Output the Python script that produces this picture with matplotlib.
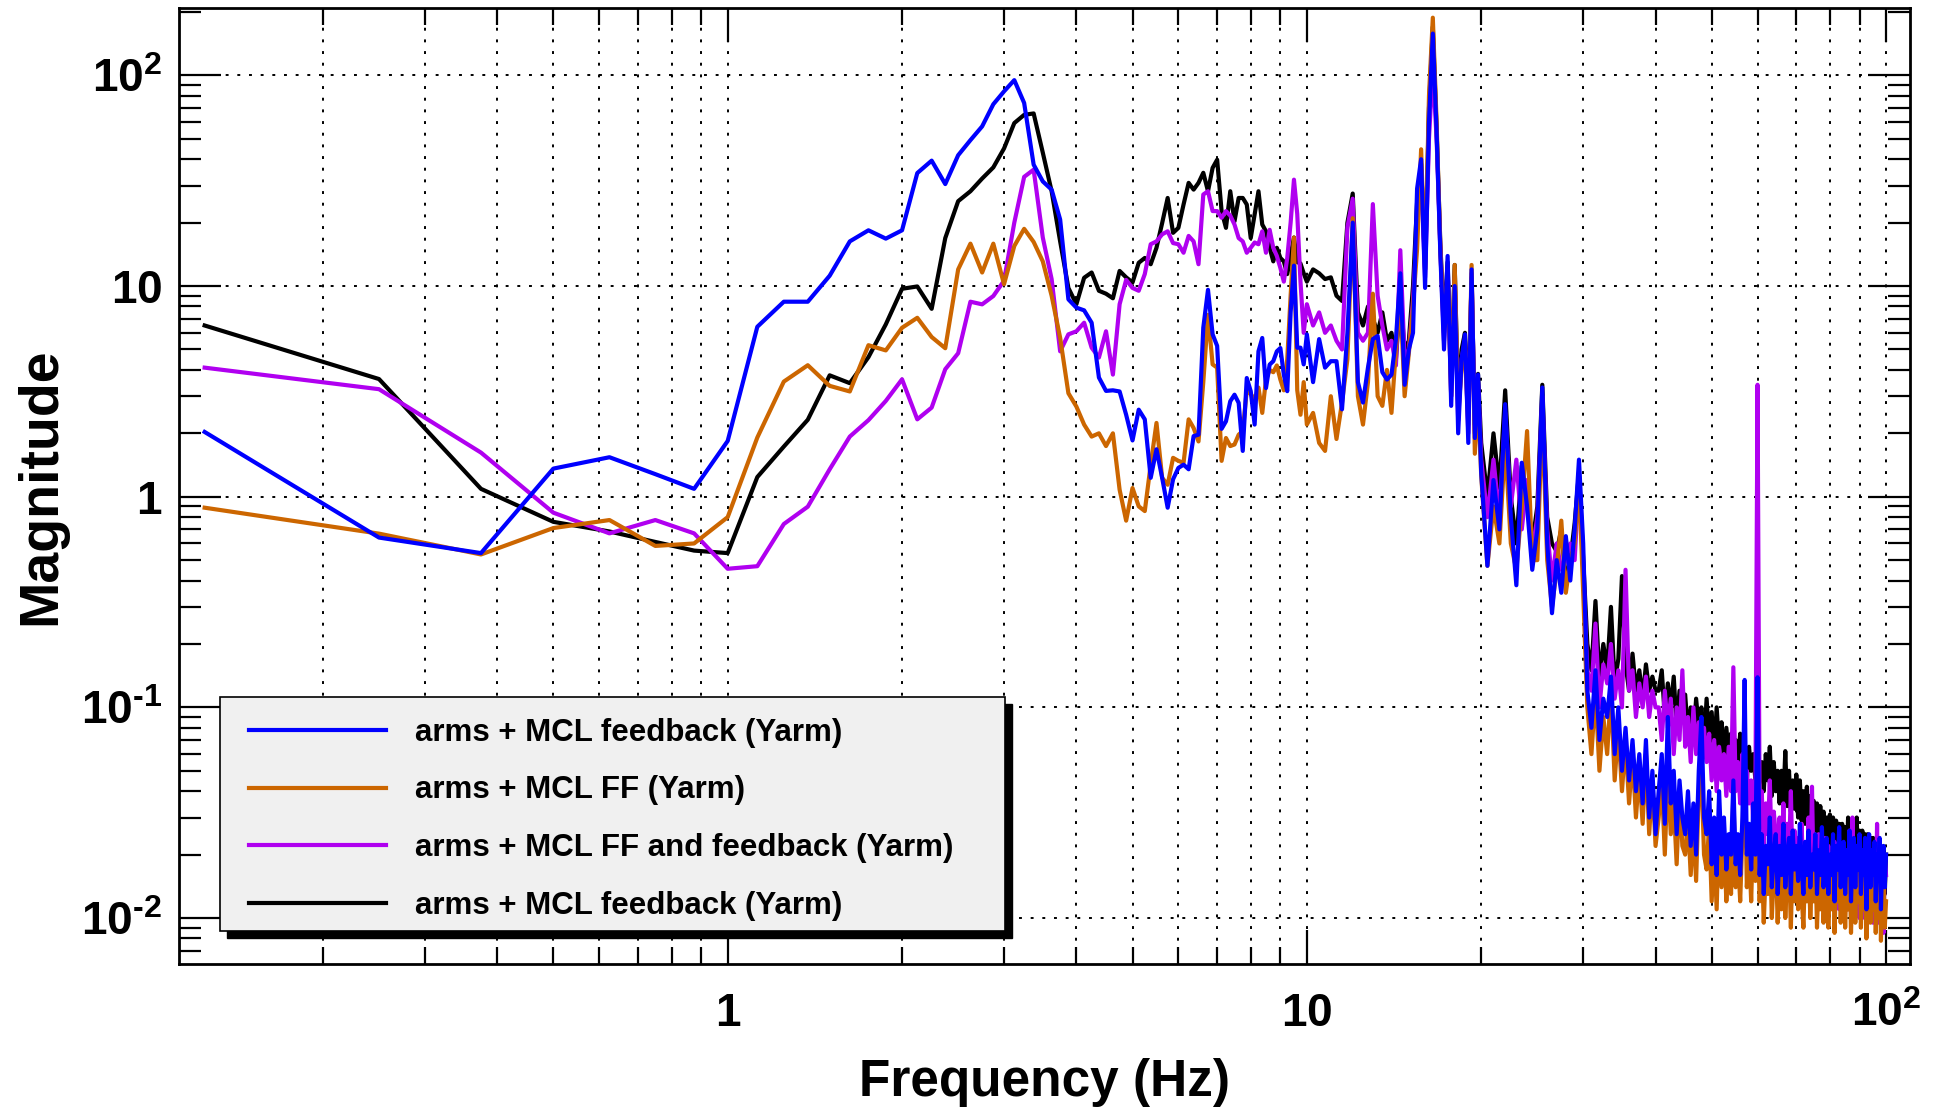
import numpy as np
import matplotlib
matplotlib.use("Agg")
import matplotlib.pyplot as plt
from matplotlib.patches import Rectangle
from matplotlib.ticker import LogLocator, NullFormatter, FixedLocator, FixedFormatter

plt.rcParams['font.family'] = ['Liberation Sans', 'DejaVu Sans']
plt.rcParams['font.weight'] = 'bold'
plt.rcParams['mathtext.fontset'] = 'custom'
plt.rcParams['mathtext.rm'] = 'Liberation Sans:bold'
plt.rcParams['mathtext.bf'] = 'Liberation Sans:bold'
plt.rcParams['mathtext.default'] = 'bf'

# frequency bins (Hz): fine below 10 Hz, coarser reading above
freq_lo = np.arange(1, 81) * 0.125          # 0.125 .. 10
freq_mid = 10 + np.arange(1, 41) * 0.25     # 10.25 .. 20
freq_hi1 = 20 + np.arange(1, 41) * 0.5      # 20.5 .. 40
freq_hi2 = 40 + np.arange(1, 121) * 0.5     # 40.5 .. 100
freq = np.concatenate([freq_lo, freq_mid, freq_hi1, freq_hi2])

# arms + MCL feedback (Yarm) - blue
blue_lo = [2.03, 0.64, 0.54, 1.36, 1.54, 1.28, 1.09, 1.84,
           6.41, 8.43, 8.43, 11.2, 16.3, 18.4, 16.8, 18.4,
           34.4, 39.4, 30.5, 41.8, 49.3, 57.3, 73.0, 84.0,
           95.0, 74.0, 37.7, 31.4, 28.7, 20.7, 8.65, 7.9,
           7.67, 6.7, 3.68, 3.18, 3.2, 3.16, 2.45, 1.85,
           2.59, 2.33, 1.23, 1.68, 1.23, 0.887, 1.21, 1.37,
           1.42, 1.35, 1.94, 1.97, 6.35, 9.6, 5.9, 5.2,
           2.1, 2.28, 2.84, 3.05, 2.79, 1.65, 3.66, 3.17,
           2.2, 4.9, 5.67, 3.28, 4.24, 4.4, 4.9, 5.08,
           3.8, 3.17, 7.5, 12.5, 5.1, 5.1, 4.25, 5.9]
blue_mid = [3.5, 5.6, 4.1, 4.4, 4.4, 2.6, 6.0, 20.0,
            3.5, 2.8, 4.1, 5.6, 5.8, 3.9, 3.6, 3.8,
            5.6, 11.5, 3.4, 5.0, 6.0, 29.0, 40.0, 9.8,
            60.0, 158.0, 54.0, 14.3, 5.0, 13.9, 2.7, 10.0,
            2.0, 4.5, 5.9, 1.8, 12.0, 1.9, 3.8, 1.3]
blue_hi1 = [0.47, 1.2, 0.7, 2.75, 0.8, 0.38, 1.45, 0.9,
            0.45, 0.7, 3.3, 0.6, 0.28, 0.5, 0.35, 0.65,
            0.4, 0.7, 1.5, 0.6, 0.12, 0.08, 0.15, 0.07,
            0.11, 0.09, 0.14, 0.06, 0.1, 0.05, 0.08, 0.045,
            0.07, 0.04, 0.06, 0.035, 0.07, 0.03, 0.05, 0.025]
blue_hi2 = [0.04, 0.06, 0.028, 0.09, 0.035, 0.05, 0.025, 0.045, 0.03, 0.025,
            0.04, 0.022, 0.035, 0.02, 0.05, 0.09, 0.03, 0.025, 0.04, 0.018,
            0.03, 0.016, 0.04, 0.02, 0.03, 0.017, 0.025, 0.02, 0.045, 0.018,
            0.025, 0.016, 0.03, 0.135, 0.02, 0.028, 0.017, 0.035, 0.02, 0.139,
            0.016, 0.025, 0.013, 0.022, 0.018, 0.03, 0.014, 0.02, 0.025, 0.013,
            0.022, 0.016, 0.028, 0.014, 0.02, 0.024, 0.013, 0.026, 0.017, 0.022,
            0.015, 0.028, 0.018, 0.013, 0.023, 0.016, 0.026, 0.014, 0.02, 0.017,
            0.025, 0.013, 0.021, 0.016, 0.027, 0.014, 0.019, 0.024, 0.013, 0.02,
            0.016, 0.025, 0.012, 0.022, 0.017, 0.027, 0.014, 0.02, 0.023, 0.013,
            0.021, 0.016, 0.026, 0.012, 0.02, 0.024, 0.014, 0.022, 0.017, 0.025,
            0.013, 0.021, 0.016, 0.024, 0.011, 0.02, 0.025, 0.014, 0.021, 0.016,
            0.023, 0.012, 0.02, 0.015, 0.024, 0.011, 0.019, 0.022, 0.014, 0.02]

# arms + MCL FF (Yarm) - orange
orange_lo = [0.887, 0.668, 0.532, 0.71, 0.775, 0.584, 0.60, 0.80,
             1.91, 3.52, 4.21, 3.36, 3.16, 5.24, 4.95, 6.34,
             7.07, 5.73, 5.07, 12.0, 15.9, 11.6, 15.9, 10.2,
             15.5, 18.7, 16.2, 13.1, 9.0, 5.68, 3.1, 2.68,
             2.2, 1.93, 2.0, 1.74, 2.0, 1.08, 0.77, 1.1,
             0.9, 0.855, 1.42, 2.24, 1.23, 1.14, 1.53, 1.48,
             1.45, 2.33, 2.12, 1.83, 3.5, 7.3, 4.25, 4.1,
             1.48, 1.9, 1.74, 1.77, 1.97, 2.05, 3.2, 3.07,
             2.9, 3.3, 2.5, 3.6, 4.0, 3.9, 4.2, 3.6,
             3.2, 4.5, 9.0, 17.0, 3.2, 2.45, 3.5, 2.2]
orange_mid = [2.5, 1.8, 1.65, 3.0, 1.88, 2.8, 4.5, 21.0,
              3.0, 2.2, 3.5, 9.2, 3.0, 2.7, 4.0, 2.5,
              5.0, 9.0, 3.0, 4.8, 8.0, 15.0, 44.6, 12.0,
              80.0, 188.0, 60.0, 15.0, 6.0, 12.0, 3.0, 12.6,
              2.5, 4.0, 5.0, 2.2, 12.6, 1.6, 3.0, 1.26]
orange_hi1 = [0.47, 0.9, 0.6, 1.8, 0.6, 0.45, 0.9, 2.05,
              0.5, 0.5, 2.5, 0.5, 0.3, 0.45, 0.77, 0.35,
              0.5, 0.6, 1.2, 0.35, 0.1, 0.06, 0.12, 0.05,
              0.09, 0.06, 0.12, 0.045, 0.08, 0.04, 0.07, 0.035,
              0.06, 0.03, 0.05, 0.028, 0.06, 0.025, 0.045, 0.022]
orange_hi2 = [0.03, 0.045, 0.02, 0.05, 0.025, 0.035, 0.018, 0.04, 0.022, 0.02,
              0.03, 0.016, 0.028, 0.015, 0.04, 0.05, 0.02, 0.017, 0.028, 0.012,
              0.022, 0.011, 0.03, 0.014, 0.025, 0.012, 0.02, 0.013, 0.04, 0.014,
              0.02, 0.012, 0.025, 0.06, 0.014, 0.022, 0.012, 0.028, 0.015, 0.03,
              0.012, 0.02, 0.0095, 0.017, 0.013, 0.024, 0.01, 0.016, 0.02, 0.0095,
              0.017, 0.011, 0.022, 0.01, 0.016, 0.019, 0.009, 0.02, 0.012, 0.018,
              0.011, 0.022, 0.013, 0.009, 0.018, 0.012, 0.02, 0.01, 0.016, 0.012,
              0.02, 0.009, 0.016, 0.011, 0.021, 0.0095, 0.015, 0.019, 0.009, 0.015,
              0.011, 0.02, 0.0085, 0.017, 0.012, 0.021, 0.0095, 0.015, 0.018, 0.009,
              0.016, 0.011, 0.02, 0.0085, 0.015, 0.019, 0.0095, 0.017, 0.012, 0.019,
              0.009, 0.016, 0.011, 0.019, 0.008, 0.015, 0.02, 0.0095, 0.016, 0.011,
              0.018, 0.0085, 0.015, 0.01, 0.019, 0.0078, 0.014, 0.017, 0.009, 0.012]

# arms + MCL FF and feedback (Yarm) - purple
purple_lo = [4.1, 3.24, 1.62, 0.84, 0.67, 0.775, 0.67, 0.455,
             0.468, 0.742, 0.897, 1.35, 1.93, 2.31, 2.85, 3.61,
             2.33, 2.65, 4.03, 4.8, 8.43, 8.19, 8.97, 10.6,
             20.0, 33.0, 35.7, 17.0, 10.8, 4.9, 5.9, 6.1,
             6.7, 5.1, 4.58, 6.1, 3.8, 8.2, 10.7, 9.8,
             9.5, 11.4, 15.8, 16.3, 17.6, 18.2, 16.0, 15.8,
             14.4, 17.3, 16.3, 12.7, 27.2, 28.2, 22.7, 22.7,
             21.1, 22.7, 21.6, 19.6, 16.9, 16.3, 14.4, 15.2,
             16.1, 15.8, 18.2, 14.4, 18.5, 15.2, 13.9, 12.2,
             10.5, 13.6, 20.0, 32.0, 22.0, 10.5, 6.0, 8.2]
purple_mid = [6.5, 7.5, 6.0, 6.5, 5.5, 5.0, 19.0, 26.0,
              6.0, 5.5, 6.0, 24.5, 9.0, 6.5, 5.0, 5.5,
              4.2, 14.8, 4.5, 5.0, 8.5, 20.0, 35.0, 11.0,
              50.0, 110.0, 50.0, 15.0, 5.5, 12.0, 3.0, 11.0,
              2.3, 4.5, 5.5, 2.0, 11.5, 2.0, 3.5, 1.5]
purple_hi1 = [0.8, 1.5, 0.8, 2.5, 0.9, 1.5, 0.7, 1.2,
              0.55, 0.8, 3.0, 0.7, 0.4, 0.6, 0.45, 0.5,
              0.6, 0.5, 1.2, 0.45, 0.15, 0.12, 0.25, 0.1,
              0.16, 0.13, 0.2, 0.11, 0.15, 0.1, 0.45, 0.12,
              0.15, 0.09, 0.13, 0.1, 0.14, 0.09, 0.12, 0.1]
purple_hi2 = [0.1, 0.07, 0.12, 0.08, 0.11, 0.06, 0.1, 0.07, 0.15, 0.065,
              0.09, 0.055, 0.1, 0.06, 0.085, 0.05, 0.08, 0.055, 0.075, 0.045,
              0.07, 0.04, 0.065, 0.045, 0.06, 0.038, 0.065, 0.04, 0.155, 0.04,
              0.055, 0.035, 0.06, 0.03, 0.05, 0.035, 0.045, 0.028, 0.04, 3.4,
              0.03, 0.04, 0.022, 0.035, 0.025, 0.045, 0.02, 0.032, 0.025, 0.02,
              0.03, 0.018, 0.035, 0.017, 0.028, 0.02, 0.04, 0.016, 0.026, 0.018,
              0.024, 0.016, 0.028, 0.014, 0.022, 0.015, 0.03, 0.014, 0.042, 0.015,
              0.022, 0.013, 0.025, 0.012, 0.02, 0.013, 0.024, 0.011, 0.022, 0.012,
              0.02, 0.011, 0.023, 0.012, 0.019, 0.011, 0.022, 0.01, 0.018, 0.011,
              0.02, 0.011, 0.026, 0.012, 0.03, 0.01, 0.019, 0.011, 0.022, 0.01,
              0.018, 0.01, 0.02, 0.011, 0.017, 0.0095, 0.02, 0.01, 0.018, 0.0095,
              0.016, 0.01, 0.028, 0.0095, 0.018, 0.01, 0.017, 0.0085, 0.02, 0.016]

# arms + MCL feedback (Yarm) - black
black_lo = [6.5, 3.62, 1.09, 0.76, 0.684, 0.61, 0.555, 0.54,
            1.24, 1.73, 2.32, 3.77, 3.46, 4.6, 6.58, 9.71,
            9.96, 7.8, 16.9, 25.3, 28.2, 32.4, 36.6, 45.0,
            59.4, 65.0, 66.0, 43.0, 28.2, 16.3, 9.8, 8.2,
            10.95, 11.6, 9.5, 9.2, 8.75, 11.8, 11.0, 10.4,
            12.9, 13.6, 12.7, 15.2, 19.9, 26.2, 17.9, 18.9,
            24.4, 30.9, 28.7, 30.9, 34.5, 28.2, 36.4, 39.8,
            22.7, 18.9, 28.2, 20.3, 26.2, 26.2, 24.4, 16.9,
            21.9, 28.2, 19.6, 18.2, 15.2, 13.1, 15.2, 13.6,
            13.1, 11.4, 14.0, 17.0, 13.0, 12.8, 11.5, 10.5]
black_mid = [12.0, 11.5, 10.8, 11.0, 9.0, 8.5, 20.0, 27.5,
             7.5, 6.5, 8.0, 7.0, 6.0, 7.5, 5.5, 6.0,
             4.5, 9.0, 5.0, 5.5, 10.0, 25.0, 38.0, 12.0,
             70.0, 170.0, 55.0, 16.0, 6.5, 13.0, 3.5, 12.6,
             2.8, 5.0, 6.0, 2.5, 11.0, 2.2, 3.83, 1.8]
black_hi1 = [1.0, 2.0, 1.1, 3.2, 1.0, 0.6, 1.4, 1.0,
             0.6, 0.9, 3.4, 0.8, 0.6, 0.55, 0.7, 0.4,
             0.5, 0.75, 1.3, 0.5, 0.2, 0.15, 0.32, 0.14,
             0.2, 0.15, 0.3, 0.13, 0.17, 0.42, 0.16, 0.12,
             0.18, 0.12, 0.15, 0.11, 0.16, 0.12, 0.14, 0.12]
black_hi2 = [0.12, 0.15, 0.09, 0.13, 0.1, 0.14, 0.08, 0.12, 0.09, 0.115,
             0.075, 0.1, 0.07, 0.11, 0.08, 0.1, 0.065, 0.11, 0.07, 0.095,
             0.06, 0.1, 0.065, 0.085, 0.055, 0.08, 0.06, 0.075, 0.05, 0.07,
             0.055, 0.075, 0.05, 0.07, 0.045, 0.065, 0.05, 0.06, 0.045, 0.06,
             0.045, 0.055, 0.04, 0.06, 0.045, 0.065, 0.038, 0.055, 0.04, 0.05,
             0.035, 0.05, 0.036, 0.062, 0.034, 0.05, 0.032, 0.045, 0.033, 0.048,
             0.03, 0.045, 0.029, 0.04, 0.028, 0.042, 0.027, 0.038, 0.026, 0.036,
             0.026, 0.035, 0.024, 0.034, 0.023, 0.032, 0.022, 0.03, 0.022, 0.031,
             0.021, 0.03, 0.02, 0.029, 0.02, 0.028, 0.019, 0.028, 0.019, 0.027,
             0.018, 0.03, 0.018, 0.028, 0.017, 0.027, 0.017, 0.03, 0.017, 0.026,
             0.016, 0.026, 0.016, 0.025, 0.015, 0.025, 0.015, 0.024, 0.015, 0.024,
             0.014, 0.023, 0.014, 0.022, 0.014, 0.022, 0.013, 0.021, 0.013, 0.02]

labels = ['arms + MCL feedback (Yarm)',
          'arms + MCL FF (Yarm)',
          'arms + MCL FF and feedback (Yarm)',
          'arms + MCL feedback (Yarm)']
colors = ['#0000ff', '#cc6600', '#b000f0', '#000000']

blue = np.concatenate([blue_lo, blue_mid, blue_hi1, blue_hi2])
orange = np.concatenate([orange_lo, orange_mid, orange_hi1, orange_hi2])
purple = np.concatenate([purple_lo, purple_mid, purple_hi1, purple_hi2])
black = np.concatenate([black_lo, black_mid, black_hi1, black_hi2])

fig = plt.figure(figsize=(19.44, 11.09), dpi=100)
ax = fig.add_axes([0.09187, 0.13075, 0.89064, 0.86204])

lw = 3.0
# black first, blue on top
l_black, = ax.plot(freq, black, color=colors[3], lw=lw)
l_purple, = ax.plot(freq, purple, color=colors[2], lw=lw)
l_orange, = ax.plot(freq, orange, color=colors[1], lw=lw)
l_blue, = ax.plot(freq, blue, color=colors[0], lw=lw)

ax.set_xscale('log')
ax.set_yscale('log')
ax.set_xlim(0.1127, 110)
ax.set_ylim(0.00605, 209)

ax.xaxis.set_major_locator(FixedLocator([1, 10, 100]))
ax.xaxis.set_major_formatter(FixedFormatter([r'$1$', r'$10$', r'$10^{2}$']))
ax.xaxis.set_minor_locator(LogLocator(base=10, subs=np.arange(2, 10), numticks=20))
ax.xaxis.set_minor_formatter(NullFormatter())
ax.yaxis.set_major_locator(FixedLocator([0.01, 0.1, 1, 10, 100]))
ax.yaxis.set_major_formatter(FixedFormatter([r'$10^{\text{-2}}$', r'$10^{\text{-1}}$',
                                             r'$1$', r'$10$', r'$10^{2}$']))
ax.yaxis.set_minor_locator(LogLocator(base=10, subs=np.arange(2, 10), numticks=20))
ax.yaxis.set_minor_formatter(NullFormatter())

ax.tick_params(axis='x', which='major', direction='in', length=24.5, width=1.6,
               top=True, pad=20, labelsize=33)
ax.tick_params(axis='x', which='minor', direction='in', length=12, width=1.6, top=True)
ax.tick_params(axis='y', which='major', direction='in', length=30, width=1.6,
               right=True, pad=12, labelsize=33)
ax.tick_params(axis='y', which='minor', direction='in', length=16, width=1.6, right=True)

for s in ax.spines.values():
    s.set_linewidth(2.0)

dots = (0, (1.5, 4.5))
ax.grid(True, which='major', axis='both', color='k', linestyle=dots, linewidth=1.4)
ax.grid(True, which='minor', axis='x', color='k', linestyle=dots, linewidth=1.4)
ax.set_axisbelow(True)

ax.set_xlabel('Frequency (Hz)', fontsize=37, fontweight='bold')
ax.xaxis.set_label_coords(0.5, -0.098)
ax.set_ylabel('Magnitude', fontsize=40, fontweight='bold')
ax.yaxis.set_label_coords(-0.0645, 0.5)

# legend box with ROOT-like solid shadow
bx, by, bw, bh = 0.0237, 0.0345, 0.4536, 0.2448
ax.add_patch(Rectangle((bx + 0.0040, by - 0.0073), bw, bh, transform=ax.transAxes,
                       facecolor='k', edgecolor='k', zorder=4))
ax.add_patch(Rectangle((bx, by), bw, bh, transform=ax.transAxes,
                       facecolor='#f0f0f0', edgecolor='k', lw=1.2, zorder=4.1))
leg = ax.legend([l_blue, l_orange, l_purple, l_black], labels, loc='center',
                bbox_to_anchor=(0.2440, 0.1513), frameon=False,
                prop={'weight': 'bold', 'size': 22.5}, handlelength=4.4,
                handletextpad=0.91, labelspacing=0.89, borderpad=0, borderaxespad=0)
leg.set_zorder(5)

fig.savefig('out.png', dpi=100)
